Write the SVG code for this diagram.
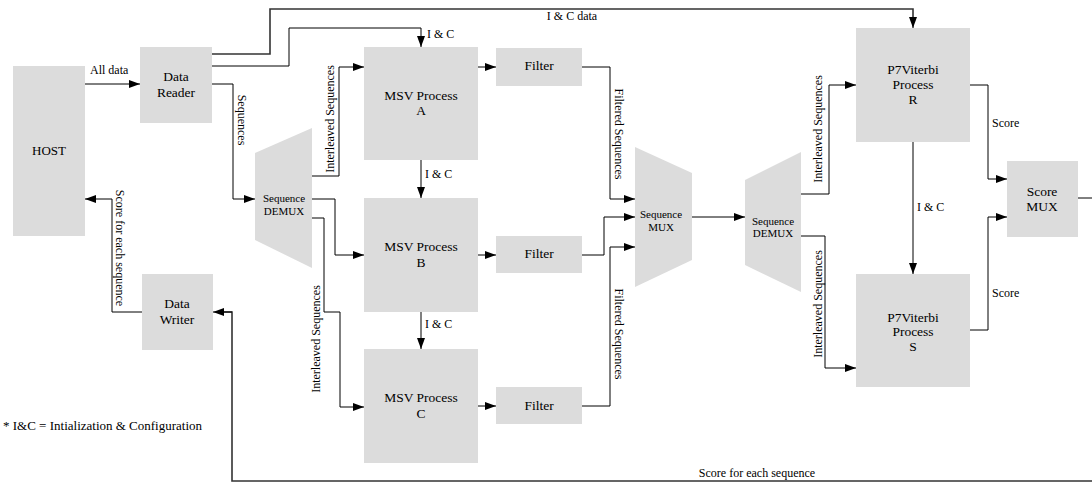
<svg xmlns="http://www.w3.org/2000/svg" width="1092" height="483" viewBox="0 0 1092 483" font-family="'Liberation Serif', 'DejaVu Serif', 'Times New Roman', serif">
<style>
.box{fill:#dcdcdc;stroke:none}
.nt{font-size:13.5px;fill:#000;text-anchor:middle}
.st{font-size:11px;fill:#000;text-anchor:middle}
.lb{font-size:12px;fill:#000}
.lbm{font-size:12px;fill:#000;text-anchor:middle}
.c{fill:none;stroke:#000;stroke-width:1}
.ca{fill:none;stroke:#000;stroke-width:1;marker-end:url(#ah)}
.cw{fill:none;stroke:#333;stroke-width:1.6}
</style>
<defs>
<marker id="ah" viewBox="0 0 11 8" refX="11" refY="4" markerWidth="11" markerHeight="8" orient="auto" markerUnits="userSpaceOnUse"><path d="M0,0 L11,4 L0,8 z" fill="#000"/></marker>
</defs>
<rect width="1092" height="483" fill="#fff"/>
<g id="connectors">
<path class="ca" d="M85,84 H140"/>
<path class="cw" d="M212,54 H270 V9 H913 V18"/>
<path class="ca" d="M913,17 V28"/>
<path class="ca" d="M212,66 H289 V28 H421 V47"/>
<path class="ca" d="M212,84 H233 V199 H255"/>
<path class="ca" d="M312,176 H339 V67 H364"/>
<path class="ca" d="M312,199 H335 V255 H364"/>
<path class="ca" d="M312,218 H324 V312 H340 V407 H364"/>
<path class="ca" d="M421,160 V198"/>
<path class="ca" d="M421,312 V349"/>
<path class="ca" d="M478,67 H496"/>
<path class="ca" d="M478,255 H496"/>
<path class="ca" d="M478,406 H496"/>
<path class="ca" d="M582,67 H610 V199 H635"/>
<path class="ca" d="M582,255 H604 V217 H635"/>
<path class="ca" d="M582,406 H610 V247 H635"/>
<path class="ca" d="M692,217 H745"/>
<path class="ca" d="M801,194 H829 V85 H856"/>
<path class="ca" d="M801,236 H825 V368 H856"/>
<path class="ca" d="M913,142 V274"/>
<path class="ca" d="M970,85 H988 V179 H1007"/>
<path class="ca" d="M970,330 H988 V217 H1007"/>
<path class="c" d="M1078,198 H1092"/>
<path class="cw" d="M1092,481 H232 V312 H224"/>
<path class="ca" d="M232,312 H213"/>
<path class="ca" d="M142,312 H112 V199 H85"/>
</g>
<g id="labels">
<text class="lb" x="90" y="74">All data</text>
<text class="lbm" x="572" y="20">I &amp; C data</text>
<text class="lb" x="427" y="38">I &amp; C</text>
<text class="lbm" transform="translate(238,120) rotate(90)">Sequences</text>
<text class="lbm" transform="translate(334,119) rotate(-90)">Interleaved Sequences</text>
<text class="lbm" transform="translate(320,339) rotate(-90)">Interleaved Sequences</text>
<text class="lb" x="425" y="178">I &amp; C</text>
<text class="lb" x="425" y="328">I &amp; C</text>
<text class="lbm" transform="translate(615,134) rotate(90)">Filtered Sequences</text>
<text class="lbm" transform="translate(615,334) rotate(90)">Filtered Sequences</text>
<text class="lbm" transform="translate(822,129) rotate(-90)">Interleaved Sequences</text>
<text class="lbm" transform="translate(822,304) rotate(-90)">Interleaved Sequences</text>
<text class="lb" x="917" y="211">I &amp; C</text>
<text class="lb" x="992" y="127">Score</text>
<text class="lb" x="992" y="297">Score</text>
<text class="lbm" x="757" y="477">Score for each sequence</text>
<text class="lbm" transform="translate(116,248) rotate(90)">Score for each sequence</text>
<text class="lb" x="3" y="430" style="font-size:13px">* I&amp;C = Intialization &amp; Configuration</text>
</g>
<g id="host"><rect class="box" x="13" y="66" width="72" height="170"/><text class="nt" x="49" y="155" style="font-size:13px">HOST</text></g>
<g id="data-reader"><rect class="box" x="140" y="47" width="72" height="76"/><text class="nt" x="176" y="81">Data</text><text class="nt" x="176" y="97">Reader</text></g>
<g id="data-writer"><rect class="box" x="142" y="274" width="71" height="76"/><text class="nt" x="177" y="308">Data</text><text class="nt" x="177" y="324">Writer</text></g>
<g id="demux1"><polygon class="box" points="255,153 312,128 312,268 255,240"/><text class="st" x="284" y="202">Sequence</text><text class="st" x="284" y="215">DEMUX</text></g>
<g id="msv-a"><rect class="box" x="364" y="47" width="114" height="113"/><text class="nt" x="421" y="100">MSV Process</text><text class="nt" x="421" y="115">A</text></g>
<g id="msv-b"><rect class="box" x="364" y="198" width="114" height="114"/><text class="nt" x="421" y="251">MSV Process</text><text class="nt" x="421" y="267">B</text></g>
<g id="msv-c"><rect class="box" x="364" y="349" width="114" height="114"/><text class="nt" x="421" y="402">MSV Process</text><text class="nt" x="421" y="418">C</text></g>
<g id="filter-a"><rect class="box" x="496" y="48" width="86" height="38"/><text class="nt" x="539" y="70">Filter</text></g>
<g id="filter-b"><rect class="box" x="496" y="236" width="86" height="37"/><text class="nt" x="539" y="258">Filter</text></g>
<g id="filter-c"><rect class="box" x="496" y="387" width="86" height="37"/><text class="nt" x="539" y="410">Filter</text></g>
<g id="mux"><polygon class="box" points="635,147 692,173 692,260 635,287"/><text class="st" x="661" y="218">Sequence</text><text class="st" x="661" y="231">MUX</text></g>
<g id="demux2"><polygon class="box" points="745,180 801,152 801,292 745,265"/><text class="st" x="773" y="225">Sequence</text><text class="st" x="773" y="237">DEMUX</text></g>
<g id="p7-r"><rect class="box" x="856" y="28" width="114" height="114"/><text class="nt" x="913" y="74">P7Viterbi</text><text class="nt" x="913" y="89">Process</text><text class="nt" x="913" y="104">R</text></g>
<g id="p7-s"><rect class="box" x="856" y="274" width="114" height="113"/><text class="nt" x="913" y="322">P7Viterbi</text><text class="nt" x="913" y="336">Process</text><text class="nt" x="913" y="351">S</text></g>
<g id="score-mux"><rect class="box" x="1007" y="161" width="71" height="76"/><text class="nt" x="1042" y="196">Score</text><text class="nt" x="1042" y="211">MUX</text></g>
</svg>
